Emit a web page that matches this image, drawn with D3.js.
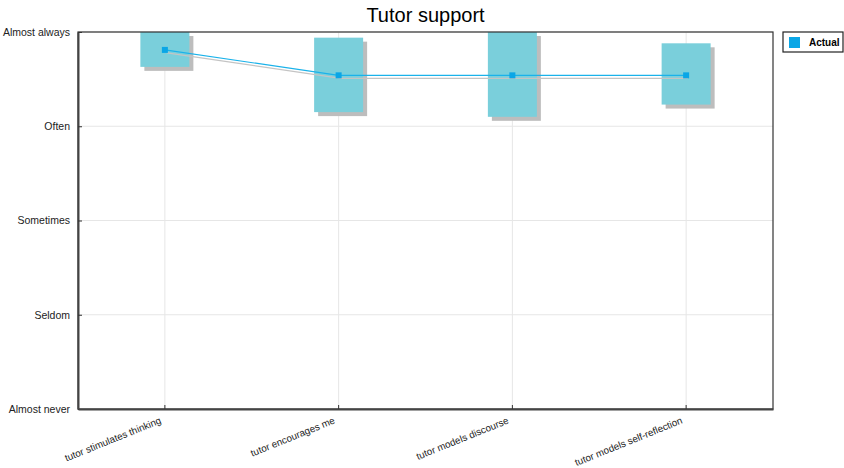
<!DOCTYPE html>
<html>
<head>
<meta charset="utf-8">
<script src="https://cdn.jsdelivr.net/npm/d3@7"></script>
<style>
  body { margin: 0; background: #fff; }
  text { font-family: "Liberation Sans", Arial, sans-serif; }
</style>
</head>
<body>
<div id="chart"></div>
<script>
const categories = ['tutor stimulates thinking', 'tutor encourages me', 'tutor models discourse', 'tutor models self-reflection'];
const actual = [4.81, 4.54, 4.54, 4.54];
const boxLow = [4.63, 4.15, 4.10, 4.23];
const boxHigh = [5.0, 4.94, 5.0, 4.88];
const levelValues = [1, 2, 3, 4, 5];
const levelLabels = ['Almost never', 'Seldom', 'Sometimes', 'Often', 'Almost always'];

const width = 844;
const height = 468;
const margin = { top: 32, right: 71, bottom: 59, left: 78 };
const plotW = width - margin.left - margin.right;
const plotH = height - margin.top - margin.bottom;

const svg = d3.select('#chart').append('svg')
  .attr('width', width)
  .attr('height', height);

const x = d3.scaleBand().domain(categories).range([0, plotW]).padding(0);
const y = d3.scaleLinear().domain([1, 5]).range([plotH, 0]);

// title
svg.append('text')
  .attr('x', margin.left + plotW / 2)
  .attr('y', 22)
  .attr('text-anchor', 'middle')
  .style('font-size', '20px')
  .text('Tutor support');

const g = svg.append('g').attr('transform', `translate(${margin.left},${margin.top})`);

// grid lines
g.selectAll('.hgrid').data(levelValues).enter().append('line')
  .attr('x1', 0).attr('x2', plotW)
  .attr('y1', d => y(d)).attr('y2', d => y(d))
  .attr('stroke', '#e6e6e6');
g.selectAll('.vgrid').data(categories).enter().append('line')
  .attr('x1', d => x(d) + x.bandwidth() / 2).attr('x2', d => x(d) + x.bandwidth() / 2)
  .attr('y1', 0).attr('y2', plotH)
  .attr('stroke', '#e6e6e6');

const boxW = 49;
const rows = categories.map((c, i) => ({ c, lo: boxLow[i], hi: boxHigh[i], v: actual[i] }));

// box shadows
g.selectAll('.shadow').data(rows).enter().append('rect')
  .attr('x', d => x(d.c) + x.bandwidth() / 2 - boxW / 2 + 4)
  .attr('y', d => y(d.hi) + 4)
  .attr('width', boxW)
  .attr('height', d => y(d.lo) - y(d.hi))
  .attr('fill', '#bdbdbd');

// boxes
g.selectAll('.box').data(rows).enter().append('rect')
  .attr('x', d => x(d.c) + x.bandwidth() / 2 - boxW / 2)
  .attr('y', d => y(d.hi))
  .attr('width', boxW)
  .attr('height', d => y(d.lo) - y(d.hi))
  .attr('fill', '#7acfdb');

// line with shadow
const line = d3.line()
  .x(d => x(d.c) + x.bandwidth() / 2)
  .y(d => y(d.v));

g.append('path').datum(rows)
  .attr('d', line)
  .attr('transform', 'translate(2,3)')
  .attr('fill', 'none')
  .attr('stroke', '#c4c4c4')
  .attr('stroke-width', 1.2);

g.append('path').datum(rows)
  .attr('d', line)
  .attr('fill', 'none')
  .attr('stroke', '#1ab2ea')
  .attr('stroke-width', 1.2);

g.selectAll('.pt').data(rows).enter().append('rect')
  .attr('x', d => x(d.c) + x.bandwidth() / 2 - 3)
  .attr('y', d => y(d.v) - 3)
  .attr('width', 6).attr('height', 6)
  .attr('fill', '#0aa6e6');

// frame
g.append('rect')
  .attr('width', plotW).attr('height', plotH)
  .attr('fill', 'none')
  .attr('stroke', '#333')
  .attr('stroke-width', 1.2);

// y axis
const yAxis = g.append('g')
  .call(d3.axisLeft(y).tickValues(levelValues).tickFormat((d, i) => levelLabels[i]).tickSizeInner(-4).tickSizeOuter(0).tickPadding(8));
yAxis.select('.domain').attr('stroke', '#444').attr('stroke-width', 2);
yAxis.selectAll('.tick line').attr('stroke', '#333');
yAxis.selectAll('text').style('font-size', '10.5px').attr('fill', '#222')
  .style('font-family', '"Liberation Sans", Arial, sans-serif');

// x axis
const xAxis = g.append('g')
  .attr('transform', `translate(0,${plotH})`)
  .call(d3.axisBottom(x).tickSizeInner(-4).tickSizeOuter(0).tickPadding(8));
xAxis.select('.domain').attr('stroke', '#444').attr('stroke-width', 2);
xAxis.selectAll('.tick line').attr('stroke', '#333');
xAxis.selectAll('text')
  .style('font-size', '9.8px').attr('fill', '#222')
  .style('font-family', '"Liberation Sans", Arial, sans-serif')
  .attr('text-anchor', 'end')
  .attr('x', 0).attr('y', 0).attr('dy', 0)
  .attr('transform', 'translate(-3,14) rotate(-22)');

// legend
const legend = svg.append('g').attr('transform', 'translate(783,32)');
legend.append('rect')
  .attr('width', 60).attr('height', 20)
  .attr('fill', '#fff').attr('stroke', '#222').attr('stroke-width', 1.2);
legend.append('rect')
  .attr('x', 6).attr('y', 5).attr('width', 11).attr('height', 11)
  .attr('fill', '#0aa6e6');
legend.append('text')
  .attr('x', 26).attr('y', 14)
  .style('font-size', '10px').style('font-weight', 'bold')
  .text('Actual');
</script>
</body>
</html>
